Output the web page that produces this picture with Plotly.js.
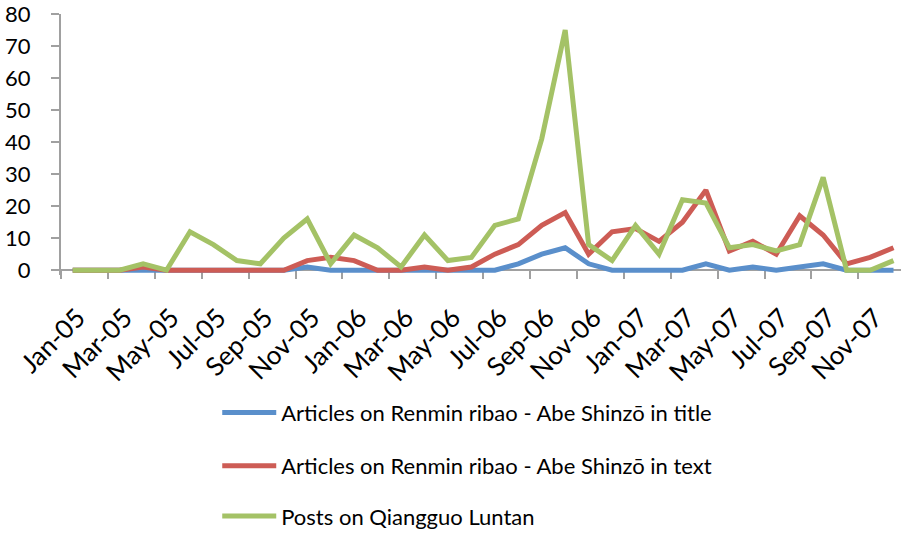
<!DOCTYPE html>
<html>
<head>
<meta charset="utf-8">
<script src="https://cdn.plot.ly/plotly-3.0.1.min.js"></script>
<style>html,body{margin:0;padding:0;background:#fff;}#chart{width:901px;height:533px;}</style>
</head>
<body>
<div id="chart"></div>
<script>
var months = ["Jan-05","Feb-05","Mar-05","Apr-05","May-05","Jun-05","Jul-05","Aug-05","Sep-05","Oct-05","Nov-05","Dec-05",
              "Jan-06","Feb-06","Mar-06","Apr-06","May-06","Jun-06","Jul-06","Aug-06","Sep-06","Oct-06","Nov-06","Dec-06",
              "Jan-07","Feb-07","Mar-07","Apr-07","May-07","Jun-07","Jul-07","Aug-07","Sep-07","Oct-07","Nov-07","Dec-07"];
var titleArticles = [0,0,0,0,0,0,0,0,0,0,1,0, 0,0,0,0,0,0,0,2,5,7,2,0, 0,0,0,2,0,1,0,1,2,0,0,0];
var textArticles  = [0,0,0,1,0,0,0,0,0,0,3,4, 3,0,0,1,0,1,5,8,14,18,5,12, 13,9,15,25,6,9,5,17,11,2,4,7];
var forumPosts    = [0,0,0,2,0,12,8,3,2,10,16,2, 11,7,1,11,3,4,14,16,41,75,8,3, 14,5,22,21,7,8,6,8,29,0,0,3];
var seriesNames = ["Articles on Renmin ribao - Abe Shinzō in title",
                   "Articles on Renmin ribao - Abe Shinzō in text",
                   "Posts on Qiangguo Luntan"];
var colors = ["#5A8FCB","#CD5C55","#A4C266"];

var idx = months.map(function(_, i){ return i; });
var tickIdx = idx.filter(function(i){ return i % 2 === 0; });
var tickTxt = tickIdx.map(function(i){ return months[i]; });

var FONT = "Lato, 'Open Sans', sans-serif";
var series = [titleArticles, textArticles, forumPosts];
var legendIds = ["legend","legend2","legend3"];
var traces = series.map(function(vals, k){
  return {
    x: idx, y: vals, type: "scatter", mode: "lines", name: seriesNames[k],
    line: {color: colors[k], width: 5},
    legend: legendIds[k], hoverinfo: "skip"
  };
});

function leg(y){
  return {x: 0.186, y: y, xanchor: "left", yanchor: "middle", orientation: "v",
          font: {family: FONT, size: 22, color: "#000"}, bgcolor: "rgba(0,0,0,0)", itemwidth: 54};
}

var layout = {
  width: 901, height: 533,
  margin: {l: 61, r: 0, t: 14, b: 258, autoexpand: false},
  paper_bgcolor: "#fff", plot_bgcolor: "#fff",
  font: {family: FONT, color: "#000"},
  showlegend: true,
  xaxis: {
    range: [-0.5, 35.32], anchor: "free", position: 1.5/81.5,
    showline: true, linecolor: "#A0A0A0", linewidth: 2, layer: "below traces",
    showgrid: false, zeroline: false,
    tickmode: "array", tickvals: tickIdx, ticktext: tickTxt,
    ticks: "outside", ticklen: 0, tickangle: -45,
    tickfont: {family: FONT, size: 26, color: "#000"},
    ticklabelstandoff: 21, ticklabelshift: 5, ticklabeloverflow: "allow",
    minor: {tick0: -0.5, dtick: 2, ticks: "outside", ticklen: 8, tickwidth: 2, tickcolor: "#A0A0A0", showgrid: false}
  },
  yaxis: {
    range: [-1.5, 80], tickmode: "array", tickvals: [0,10,20,30,40,50,60,70,80],
    showline: true, linecolor: "#A0A0A0", linewidth: 2, layer: "below traces",
    showgrid: false, zeroline: false,
    ticks: "outside", ticklen: 8, tickwidth: 2, tickcolor: "#A0A0A0",
    tickfont: {family: FONT, size: 22, color: "#000"},
    ticklabelstandoff: 16, ticklabeloverflow: "allow"
  },
  legend: leg(-0.528),
  legend2: leg(-0.732),
  legend3: leg(-0.924)
};

Plotly.newPlot("chart", traces, layout, {staticPlot: true});
</script>
</body>
</html>
